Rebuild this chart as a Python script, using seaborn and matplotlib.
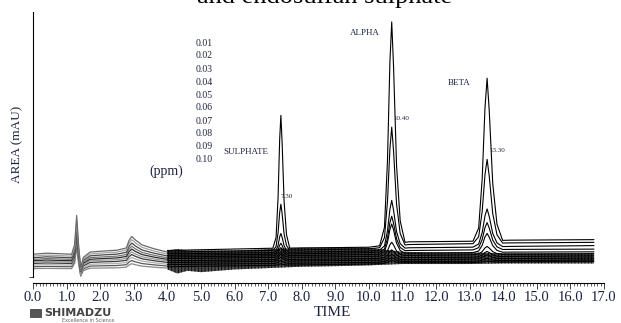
import numpy as np
import pandas as pd
import matplotlib
matplotlib.use("Agg")
import matplotlib.pyplot as plt
import seaborn as sns
from matplotlib.patches import Rectangle

# concentrations of the standards (ppm)
ppm = [0.01, 0.02, 0.03, 0.04, 0.05, 0.06, 0.07, 0.08, 0.09, 0.10]

# ---- first segment of the runs, 0 - 4 min (grey traces) ----
left_t = [0.0, 0.4, 0.8, 1.15, 1.24, 1.30, 1.36, 1.42, 1.50, 1.70, 2.10, 2.50,
          2.78, 2.86, 2.94, 3.05, 3.25, 3.60, 4.0]
left_wander = [0, 0.4, 0.2, 0, 0, 0, 0, 0, 0.3, 0.8, 1.2, 1.5,
               1.6, 1.6, 1.6, 1.5, 1.2, 0.8, 0.3]
spike_shape = [0, 0, 0, 0, 0.25, 1.0, 0.2, -0.35, -0.1, 0, 0, 0,
               0, 0, 0, 0, 0, 0, 0]
bump_shape = [0, 0, 0, 0, 0, 0, 0, 0, 0, 0, 0, 0,
              0.15, 0.7, 1.0, 0.75, 0.45, 0.25, 0.1]
left_base = [5.3, 6.0, 6.6, 7.2, 7.7, 8.2, 8.7, 9.3, 9.9, 10.6]
left_lift = [0.2, 0.3, 0.4, 0.5, 0.6, 0.7, 0.8, 0.9, 1.0, 1.0]
left_spike = [8, 9, 10, 10, 11, 11, 12, 12, 13, 14.3]
left_bump = [1.5, 1.8, 2.2, 2.5, 2.8, 3.2, 3.6, 4.0, 4.5, 5.0]
left_colors = ["#8a8a8a", "#5a5a5a", "#b0b0b0", "#3a3a3a", "#999999",
               "#2a2a2a", "#777777", "#4a4a4a", "#a5a5a5", "#6a6a6a"]

# ---- second segment, 4 - 16.7 min (black traces) ----
base_t = [4.0, 7.0, 10.0, 11.2, 13.0, 14.2, 16.7]
base_001 = [6.0, 6.5, 7.0, 7.5, 7.5, 7.8, 8.0]
base_002 = [6.8, 7.2, 7.6, 8.0, 8.0, 8.3, 8.5]
base_003 = [7.5, 8.0, 8.4, 8.6, 8.8, 9.0, 9.2]
base_004 = [8.2, 8.6, 9.0, 9.4, 9.5, 9.8, 10.0]
base_005 = [9.0, 9.4, 9.8, 10.2, 10.4, 10.6, 10.8]
base_006 = [9.6, 10.0, 10.5, 11.0, 11.2, 11.4, 11.5]
base_007 = [10.2, 10.6, 11.2, 12.0, 12.2, 12.4, 12.5]
base_008 = [10.8, 11.2, 11.8, 13.0, 13.2, 13.5, 13.8]
base_009 = [11.4, 12.0, 12.6, 14.2, 14.5, 14.8, 15.0]
base_010 = [12.0, 12.8, 13.2, 15.2, 15.4, 15.8, 16.0]
bases = [base_001, base_002, base_003, base_004, base_005,
         base_006, base_007, base_008, base_009, base_010]

peak_names = ["SULPHATE", "ALPHA", "BETA"]
rt_labels = ["7.30", "10.40", "13.30"]
peak_rt = [7.38, 10.68, 13.52]
peak_w = [0.24, 0.36, 0.42]
sulphate_h = [0.5, 1.0, 1.5, 2.0, 2.0, 3.0, 4.0, 7.0, 17.0, 49.0]
alpha_h = [1.0, 1.5, 2.0, 3.0, 5.0, 11.0, 13.0, 18.0, 44.0, 82.0]
beta_h = [0.5, 1.0, 1.5, 2.0, 3.0, 7.0, 10.0, 14.0, 31.0, 60.0]
heights = [sulphate_h, alpha_h, beta_h]
# peak outline (time in half-widths, fraction of height)
prof_t = [-1.0, -0.6, -0.35, -0.15, 0.0, 0.15, 0.4, 0.7, 1.1]
prof_f = [0, 0.08, 0.38, 0.82, 1.0, 0.8, 0.35, 0.1, 0]

# dense noisy band of the low level traces
band_t = [4.0, 4.3, 4.6, 5.0, 6.0, 7.0, 8.0, 9.0, 10.0, 11.0, 12.0, 13.0,
          14.0, 15.0, 16.0, 16.7]
band_lo = [5.0, 3.5, 4.5, 4.0, 5.0, 5.5, 6.0, 6.2, 6.5, 7.0, 7.0, 7.0,
           7.2, 7.2, 7.2, 7.2]
band_hi = [12.0, 12.5, 12.0, 12.0, 12.0, 12.5, 13.0, 13.0, 13.0, 11.5, 11.3,
           11.3, 11.0, 11.0, 11.0, 11.0]

W, H = 621, 323
sns.set_style("white")
plt.rcParams["font.family"] = ["Liberation Serif", "DejaVu Serif"]
plt.rcParams["hatch.linewidth"] = 0.6
fig = plt.figure(figsize=(W / 100, H / 100), dpi=100)
ax = fig.add_axes([33 / W, 1 - 283 / H, 571 / W, 271 / H])


def px(x, y):
    return x / W, 1 - y / H


# grey first segment
for i in range(len(ppm)):
    y = (np.array(left_base[i]) + left_lift[i] * np.array(left_wander)
         + left_spike[i] * np.array(spike_shape) + left_bump[i] * np.array(bump_shape))
    sns.lineplot(x=left_t, y=y, ax=ax, color=left_colors[i], lw=0.9,
                 estimator=None, sort=False)

# black second segment
ax.fill_between(band_t, band_lo, band_hi, facecolor="#4d4d4d", edgecolor="black",
                hatch="|||||", lw=0)
for i in range(len(ppm)):
    pts = list(base_t)
    for rt, w in zip(peak_rt, peak_w):
        pts += [rt + t * w for t in prof_t]
    t = np.array(sorted(pts))
    y = np.interp(t, base_t, bases[i])
    for k in range(3):
        y = y + heights[k][i] * np.interp(t, [peak_rt[k] + s * peak_w[k] for s in prof_t],
                                          prof_f, left=0, right=0)
    df = pd.DataFrame({"time": t, "area": y})
    sns.lineplot(data=df, x="time", y="area", ax=ax, color="black", lw=0.8,
                 estimator=None, sort=False)

ax.set_xlim(0, 17)
ax.set_ylim(0, 100)
ax.set_xlabel("")
ax.set_ylabel("")
for s in ["top", "right"]:
    ax.spines[s].set_visible(False)
ax.spines["left"].set_bounds(2.2, 100)
ax.spines["left"].set_linewidth(0.8)
ax.spines["bottom"].set_linewidth(0.8)
ax.spines["left"].set_color("black")
ax.spines["bottom"].set_color("black")
ax.set_yticks([2.2])
ax.set_yticklabels([""])
ax.set_xticks(np.arange(0, 18, 1))
ax.set_xticklabels([f"{v:.1f}" for v in range(18)])
ax.set_xticks(np.arange(0, 17.05, 0.1), minor=True)
ax.tick_params(axis="x", which="major", direction="out", length=4, width=0.6,
               pad=2, labelsize=10.5, labelcolor="#1c2340", bottom=True)
ax.tick_params(axis="x", which="minor", direction="out", length=2.5, width=0.5,
               bottom=True)
ax.tick_params(axis="y", direction="out", length=3, width=0.6, left=True)
ax.grid(False)

txt_col = "#1c2340"
for i, p in enumerate(ppm):
    fig.text(*px(196, 43 + 13 * i), f"{p:.2f}", fontsize=7, color=txt_col,
             ha="left", va="center")
fig.text(*px(149, 171), "(ppm)", fontsize=10, color=txt_col, ha="left", va="center")
name_pos = [(223, 152), (350, 33), (448, 83)]
rt_pos = [(281, 197), (393, 119), (489, 150)]
for k in range(3):
    fig.text(*px(*name_pos[k]), peak_names[k], fontsize=6.5, color=txt_col,
             ha="left", va="center")
    fig.text(*px(*rt_pos[k]), rt_labels[k], fontsize=5, color=txt_col,
             ha="left", va="center")

fig.text(*px(17, 144), "AREA (mAU)", fontsize=9.5, color=txt_col, rotation=90,
         ha="center", va="center")
fig.text(*px(332, 313), "TIME", fontsize=11, color=txt_col, ha="center", va="center")
fig.text(*px(325, 3.5), "and endosulfan sulphate", fontsize=19, color="black",
         ha="center", va="baseline")

# instrument logo
fig.patches.append(Rectangle(px(30, 317), 11 / W, 8 / H, transform=fig.transFigure,
                             facecolor="#555555", edgecolor="#333333", lw=0.5))
fig.text(*px(44, 313), "SHIMADZU", fontsize=8, fontweight="bold", color="#444444",
         family="DejaVu Sans", ha="left", va="center")
fig.text(*px(88, 320), "Excellence in Science", fontsize=3.5, color="#666666",
         family="DejaVu Sans", ha="center", va="center")

plt.savefig("out.png", dpi=100)
